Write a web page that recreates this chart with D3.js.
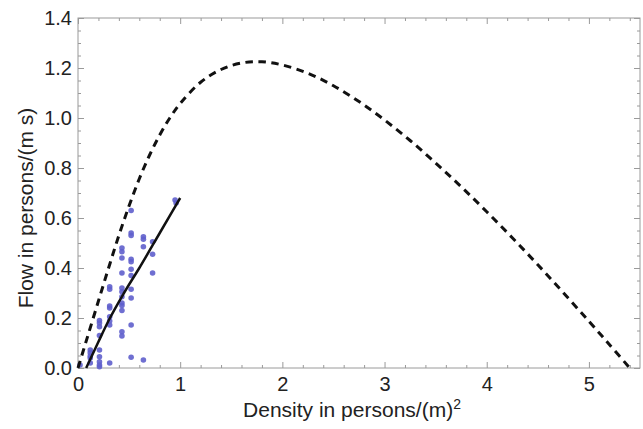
<!DOCTYPE html>
<html>
<head>
<meta charset="utf-8">
<script src="https://cdn.jsdelivr.net/npm/d3@7"></script>
<style>
  body { margin: 0; background: #fff; }
  svg { display: block; }
  text { font-family: "Liberation Sans", Arial, sans-serif; fill: #222; }
</style>
</head>
<body>
<svg id="chart" width="643" height="429"></svg>
<script>
// ---- data ----
const xTicks = [0, 1, 2, 3, 4, 5];
const yTicks = [0.0, 0.2, 0.4, 0.6, 0.8, 1.0, 1.2, 1.4];

// dashed curve (density, flow)
const curveDensity = [0, 0.05, 0.1, 0.2, 0.3, 0.4, 0.5, 0.6, 0.7, 0.8, 0.9, 1.0, 1.2, 1.4, 1.6, 1.8, 2.0, 2.25, 2.5, 2.75, 3.0, 3.25, 3.5, 3.75, 4.0, 4.25, 4.5, 4.75, 5.0, 5.2, 5.4];
const curveFlow    = [0, 0.067, 0.134, 0.268, 0.401, 0.530, 0.649, 0.757, 0.851, 0.932, 1.001, 1.058, 1.143, 1.194, 1.220, 1.225, 1.212, 1.179, 1.129, 1.066, 0.992, 0.910, 0.820, 0.725, 0.625, 0.521, 0.413, 0.301, 0.187, 0.094, 0.0];

// solid fit line
const fitDensity = [0.08, 0.2, 0.3, 0.45, 0.6, 0.8, 1.0];
const fitFlow    = [0.0, 0.105, 0.19, 0.3, 0.4, 0.54, 0.68];

// measured points
const pointDensity = [0.02,
  0.12, 0.12, 0.12, 0.12, 0.12,
  0.21, 0.21, 0.21, 0.21, 0.21, 0.21, 0.21, 0.21, 0.21,
  0.31, 0.31, 0.31, 0.31, 0.31, 0.31, 0.31, 0.31,
  0.43, 0.43, 0.43, 0.43, 0.43, 0.43, 0.43, 0.43, 0.43, 0.43, 0.43, 0.43,
  0.52, 0.52, 0.52, 0.52, 0.52, 0.52, 0.52, 0.52, 0.52, 0.52, 0.52,
  0.64, 0.64, 0.64, 0.64,
  0.73, 0.73, 0.73,
  0.95, 0.96];
const pointFlow = [0.012,
  0.072, 0.061, 0.048, 0.04, 0.02,
  0.19, 0.18, 0.165, 0.13, 0.072, 0.045, 0.025, 0.012, 0.005,
  0.325, 0.315, 0.248, 0.24, 0.205, 0.188, 0.172, 0.02,
  0.48, 0.465, 0.44, 0.38, 0.32, 0.305, 0.285, 0.26, 0.25, 0.23, 0.145, 0.128,
  0.63, 0.54, 0.53, 0.435, 0.425, 0.395, 0.37, 0.315, 0.28, 0.172, 0.043,
  0.525, 0.515, 0.485, 0.032,
  0.505, 0.455, 0.38,
  0.672, 0.66];

// ---- drawing ----
const svg = d3.select("#chart");
const mLeft = 78, mRight = 640, mTop = 18, mBottom = 368;
const x = d3.scaleLinear().domain([0, 5.5]).range([mLeft, mRight]);
const y = d3.scaleLinear().domain([0, 1.4]).range([mBottom, mTop]);
const frameColor = "#9a9a9a";
const fontStack = "Liberation Sans, Arial, sans-serif";

// frame
svg.append("rect").attr("x", mLeft).attr("y", mTop)
  .attr("width", mRight - mLeft).attr("height", mBottom - mTop)
  .attr("fill", "none").attr("stroke", frameColor).attr("stroke-width", 1);

const xMinor = d3.range(0, 5.5001, 0.2).filter(v => Math.abs(v - Math.round(v)) > 1e-6);
const yMinor = d3.range(0, 1.4001, 0.05).filter(v => Math.abs(v * 5 - Math.round(v * 5)) > 1e-6);

function styleAxis(g) {
  g.select(".domain").remove();
  g.selectAll("line").attr("stroke", frameColor);
}
function styleText(g) {
  g.selectAll("text").attr("font-size", 20).attr("fill", "#222")
    .attr("font-family", fontStack);
}
svg.append("g").attr("transform", `translate(0,${mBottom})`)
  .call(d3.axisBottom(x).tickValues(xTicks).tickSize(-6).tickPadding(9).tickFormat(d3.format("d")))
  .call(styleAxis).call(styleText);
svg.append("g").attr("transform", `translate(0,${mBottom})`)
  .call(d3.axisBottom(x).tickValues(xMinor).tickSize(-3).tickFormat(""))
  .call(styleAxis);
svg.append("g").attr("transform", `translate(0,${mTop})`)
  .call(d3.axisTop(x).tickValues(xTicks).tickSize(-6).tickFormat(""))
  .call(styleAxis);
svg.append("g").attr("transform", `translate(0,${mTop})`)
  .call(d3.axisTop(x).tickValues(xMinor).tickSize(-3).tickFormat(""))
  .call(styleAxis);

svg.append("g").attr("transform", `translate(${mLeft},0)`)
  .call(d3.axisLeft(y).tickValues(yTicks).tickSize(-6).tickPadding(6).tickFormat(d3.format(".1f")))
  .call(styleAxis).call(styleText);
svg.append("g").attr("transform", `translate(${mLeft},0)`)
  .call(d3.axisLeft(y).tickValues(yMinor).tickSize(-3).tickFormat(""))
  .call(styleAxis);
svg.append("g").attr("transform", `translate(${mRight},0)`)
  .call(d3.axisRight(y).tickValues(yTicks).tickSize(-6).tickFormat(""))
  .call(styleAxis);
svg.append("g").attr("transform", `translate(${mRight},0)`)
  .call(d3.axisRight(y).tickValues(yMinor).tickSize(-3).tickFormat(""))
  .call(styleAxis);

// points
const pts = pointDensity.map((d, i) => [d, pointFlow[i]]);
svg.append("g").selectAll("circle").data(pts).enter().append("circle")
  .attr("cx", d => x(d[0])).attr("cy", d => y(d[1])).attr("r", 2.8)
  .attr("fill", "#5f5fcc").attr("fill-opacity", 0.9);

// fit line
const line = d3.line().x(d => x(d[0])).y(d => y(d[1])).curve(d3.curveMonotoneX);
svg.append("path").datum(fitDensity.map((d, i) => [d, fitFlow[i]]))
  .attr("d", line).attr("fill", "none").attr("stroke", "#111").attr("stroke-width", 2.5);

// dashed curve
const cline = d3.line().x(d => x(d[0])).y(d => y(d[1])).curve(d3.curveCatmullRom);
svg.append("path").datum(curveDensity.map((d, i) => [d, curveFlow[i]]))
  .attr("d", cline).attr("fill", "none").attr("stroke", "#111")
  .attr("stroke-width", 3).attr("stroke-dasharray", "7.5,5.5");

// axis titles
svg.append("text").attr("x", 352).attr("y", 417)
  .attr("text-anchor", "middle").attr("font-size", 21)
  .text("Density in persons/(m)")
  .append("tspan").attr("baseline-shift", "super").attr("font-size", 14).text("2");

svg.append("text")
  .attr("transform", `translate(33,208) rotate(-90)`)
  .attr("text-anchor", "middle").attr("font-size", 21)
  .text("Flow in persons/(m s)");
</script>
</body>
</html>
